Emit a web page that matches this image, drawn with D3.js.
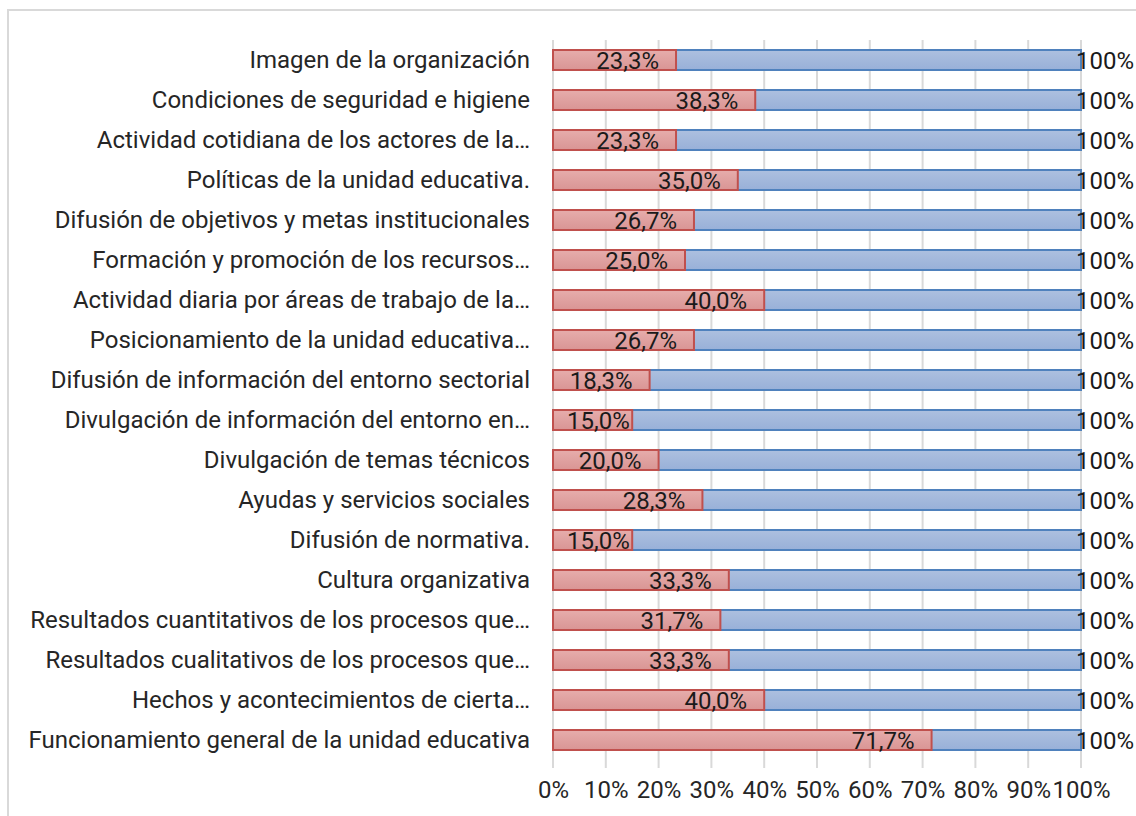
<!DOCTYPE html>
<html><head><meta charset="utf-8">
<script src="https://cdn.jsdelivr.net/npm/d3@7"></script>
<style>body{margin:0;background:#fff;}svg{display:block;font-family:Roboto,"Noto Sans",sans-serif;}</style>
</head><body>
<script>
const categories = [
"Imagen de la organización",
"Condiciones de seguridad e higiene",
"Actividad cotidiana de los actores de la…",
"Políticas de la unidad educativa.",
"Difusión de objetivos y metas institucionales",
"Formación y promoción de los recursos…",
"Actividad diaria por áreas de trabajo de la…",
"Posicionamiento de la unidad educativa…",
"Difusión de información del entorno sectorial",
"Divulgación de información del entorno en…",
"Divulgación de temas técnicos",
"Ayudas y servicios sociales",
"Difusión de normativa.",
"Cultura organizativa",
"Resultados cuantitativos de los procesos que…",
"Resultados cualitativos de los procesos que…",
"Hechos y acontecimientos de cierta…",
"Funcionamiento general de la unidad educativa"];
const redValues = [0.233,0.383,0.233,0.350,0.267,0.250,0.400,0.267,0.183,0.150,0.200,0.283,0.150,0.333,0.317,0.333,0.400,0.717];
const redLabels = ["23,3%","38,3%","23,3%","35,0%","26,7%","25,0%","40,0%","26,7%","18,3%","15,0%","20,0%","28,3%","15,0%","33,3%","31,7%","33,3%","40,0%","71,7%"];
const blueValues = categories.map(()=>1);
const blueLabel = "100%";
const xTicks = [0,0.1,0.2,0.3,0.4,0.5,0.6,0.7,0.8,0.9,1];
const xTickLabels = ["0%","10%","20%","30%","40%","50%","60%","70%","80%","90%","100%"];

const W=1136,H=816,FS=24;
const svg=d3.select("body").append("svg").attr("width",W).attr("height",H);
svg.append("rect").attr("x",8).attr("y",10).attr("width",1140).attr("height",820).attr("fill","#fff").attr("stroke","#d9d9d9").attr("stroke-width",2);

const defs=svg.append("defs");
function grad(id,c1,c2){const g=defs.append("linearGradient").attr("id",id).attr("x1",0).attr("y1",0).attr("x2",0).attr("y2",1);
g.append("stop").attr("offset","0%").attr("stop-color",c1);g.append("stop").attr("offset","100%").attr("stop-color",c2);}
grad("gRed","#e6adac","#d99594");
grad("gBlue","#adc0df","#98b0d8");

const x=d3.scaleLinear().domain([0,1]).range([553,1081]);
const y=d3.scaleBand().domain(categories).range([40,760]).paddingInner(0.5).paddingOuter(0.25);

// gridlines
svg.append("g").selectAll("line").data(xTicks).join("line")
 .attr("x1",d=>x(d)).attr("x2",d=>x(d)).attr("y1",40).attr("y2",768)
 .attr("stroke","#d9d9d9").attr("stroke-width",2);

// x axis tick labels
const xa=svg.append("g").attr("transform","translate(0,790)")
 .call(d3.axisBottom(x).tickValues(xTicks).tickFormat((d,i)=>xTickLabels[i]).tickSize(0).tickPadding(0));
xa.select(".domain").remove();
xa.selectAll("text").attr("font-size",FS).attr("fill","#262626").attr("font-family","Roboto").attr("dy","0.35em").attr("y",0);

// y axis
const ya=svg.append("g").attr("transform","translate(530,0)")
 .call(d3.axisLeft(y).tickSize(0).tickPadding(0));
ya.select(".domain").remove();
ya.selectAll("text").attr("font-size",FS).attr("fill","#262626").attr("font-family","Roboto").attr("dy","0.35em");

// blue bars (full)
svg.append("g").selectAll("rect").data(categories).join("rect")
 .attr("x",x(0)).attr("y",d=>y(d)).attr("width",(d,i)=>x(blueValues[i])-x(0)).attr("height",y.bandwidth())
 .attr("fill","url(#gBlue)").attr("stroke","#4f81bd").attr("stroke-width",2);
// red bars
svg.append("g").selectAll("rect").data(categories).join("rect")
 .attr("x",x(0)).attr("y",d=>y(d)).attr("width",(d,i)=>x(redValues[i])-x(0)).attr("height",y.bandwidth())
 .attr("fill","url(#gRed)").attr("stroke","#c0504d").attr("stroke-width",2);

// red labels
const rl=svg.append("g").selectAll("text").data(categories).join("text")
 .attr("y",d=>y(d)+y.bandwidth()/2+1).attr("dy","0.35em").attr("text-anchor","end")
 .attr("font-size",FS).attr("fill","#1a1a1a").text((d,i)=>redLabels[i]);
rl.each(function(d,i){const w=this.getComputedTextLength();d3.select(this).attr("x",Math.max(x(redValues[i])-17,x(0)+14+w));});

// blue labels
svg.append("g").selectAll("text").data(categories).join("text")
 .attr("x",(d,i)=>x(blueValues[i])-5).attr("y",d=>y(d)+y.bandwidth()/2+1).attr("dy","0.35em")
 .attr("font-size",FS).attr("fill","#1a1a1a").text(blueLabel);
</script>
</body></html>
